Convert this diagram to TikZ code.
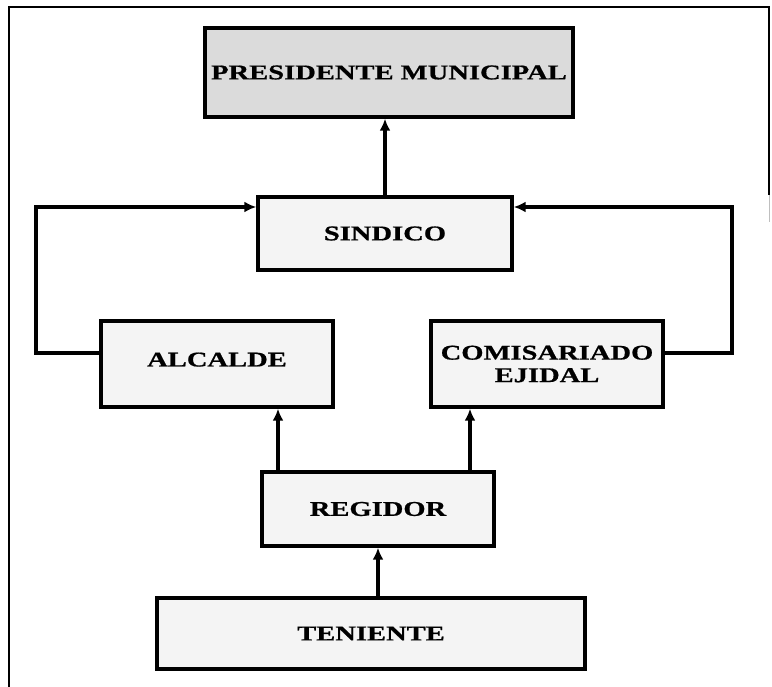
\documentclass[tikz,border=0pt]{standalone}
\usepackage{fontspec}
\setmainfont[FakeStretch=1.36,FakeBold=0.8]{Liberation Serif}
\usetikzlibrary{arrows.meta}
\begin{document}
\begin{tikzpicture}[x=1pt,y=-1pt,
  box/.style={draw=black,line width=3.4pt,rectangle,inner sep=2pt,align=center,
    font=\bfseries\fontsize{21}{22.5}\selectfont,fill=gray!9},
  topbox/.style={box,fill=gray!28},
  arr/.style={line width=3.2pt,-{Latex[length=12pt,width=11pt]}},
  frame/.style={line width=2pt}]
\useasboundingbox (0,0) rectangle (772,687);
\draw[frame] (9,687) -- (9,7) -- (769,7) -- (769,195);
\draw[line width=1pt,gray!50] (769,195) -- (769,222);
\node[topbox,minimum width=368pt,minimum height=89pt] (pres) at (389,72.5) {PRESIDENTE MUNICIPAL};
\node[box,minimum width=254pt,minimum height=73pt] (sind) at (385,233.5) {SINDICO};
\node[box,minimum width=232pt,minimum height=86pt] (alc) at (217,364) {\raisebox{9pt}{ALCALDE}};
\node[box,minimum width=232pt,minimum height=86pt] (com) at (547,364) {COMISARIADO\\EJIDAL};
\node[box,minimum width=232pt,minimum height=74pt] (reg) at (378,509) {REGIDOR};
\node[box,minimum width=428pt,minimum height=71pt] (ten) at (371,633.5) {TENIENTE};
\coordinate (lc) at (36,207);
\coordinate (rc) at (732,207);
\draw[arr] (sind.north) -- (sind.north |- pres.south);
\draw[arr] ([yshift=11pt]alc.west) -| (lc) -- (lc -| sind.west);
\draw[arr] ([yshift=11pt]com.east) -| (rc) -- (rc -| sind.east);
\draw[arr] ([xshift=-100pt]reg.north) -- ([xshift=-100pt]reg.north |- alc.south);
\draw[arr] ([xshift=92pt]reg.north) -- ([xshift=92pt]reg.north |- com.south);
\draw[arr] ([xshift=7pt]ten.north) -- ([xshift=7pt]ten.north |- reg.south);
\end{tikzpicture}
\end{document}
